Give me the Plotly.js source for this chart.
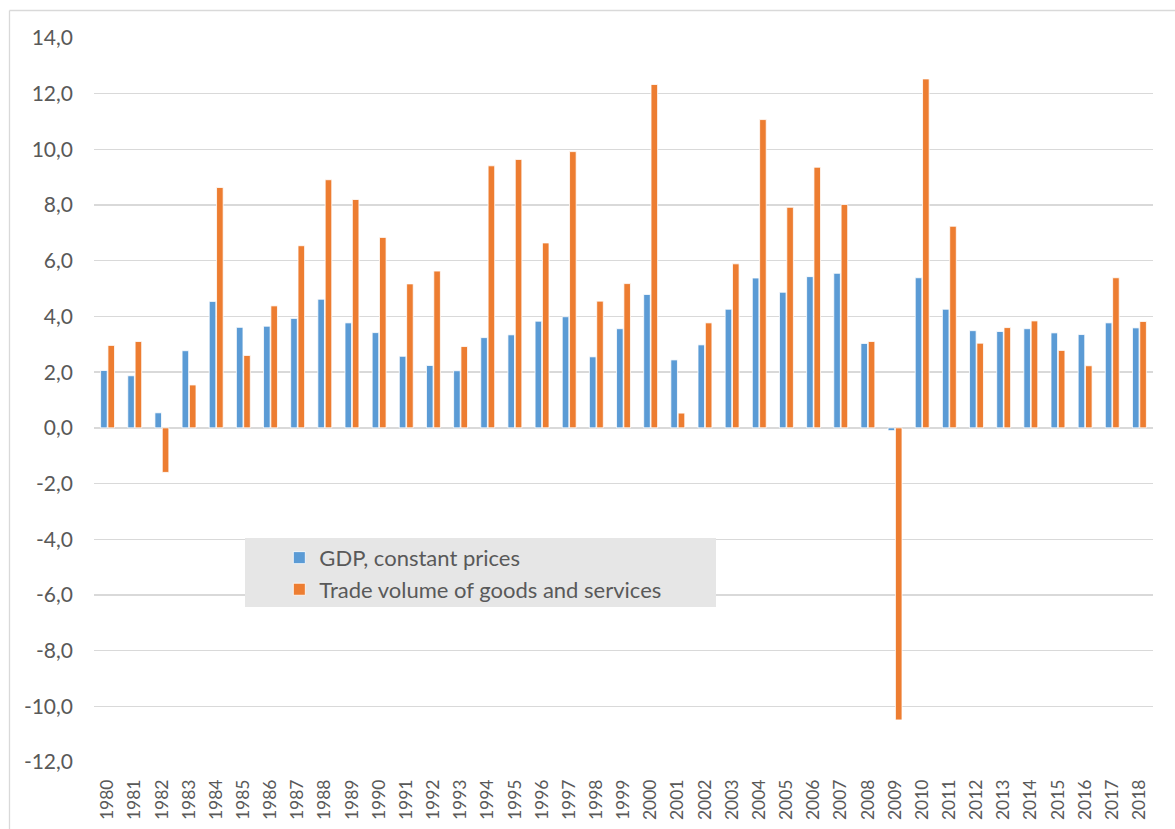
<!DOCTYPE html>
<html>
<head>
<meta charset="utf-8">
<script src="https://cdn.plot.ly/plotly-3.0.1.min.js"></script>
<style>
  html, body { margin: 0; padding: 0; background: #ffffff; }
  #chart { width: 1175px; height: 829px; }
</style>
</head>
<body>
<div id="chart"></div>
<script>
const years = ["1980","1981","1982","1983","1984","1985","1986","1987","1988","1989",
  "1990","1991","1992","1993","1994","1995","1996","1997","1998","1999",
  "2000","2001","2002","2003","2004","2005","2006","2007","2008","2009",
  "2010","2011","2012","2013","2014","2015","2016","2017","2018"];

const gdpConstantPrices = [2.06, 1.87, 0.54, 2.77, 4.54, 3.61, 3.65, 3.93, 4.62, 3.77,
  3.42, 2.57, 2.24, 2.05, 3.24, 3.34, 3.83, 3.99, 2.55, 3.56,
  4.79, 2.44, 2.98, 4.26, 5.38, 4.87, 5.43, 5.55, 3.03, -0.10,
  5.39, 4.26, 3.49, 3.46, 3.56, 3.41, 3.35, 3.77, 3.59];

const tradeVolume = [2.96, 3.10, -1.60, 1.54, 8.63, 2.60, 4.38, 6.54, 8.91, 8.20,
  6.84, 5.17, 5.63, 2.92, 9.41, 9.64, 6.64, 9.92, 4.55, 5.18,
  12.33, 0.53, 3.77, 5.89, 11.07, 7.92, 9.36, 8.02, 3.10, -10.49,
  12.53, 7.24, 3.04, 3.60, 3.84, 2.78, 2.23, 5.39, 3.82];

const seriesNames = ["GDP, constant prices", "Trade volume of goods and services"];
const yTicks = [-12, -10, -8, -6, -4, -2, 0, 2, 4, 6, 8, 10, 12, 14];
const yTickLabels = ["-12,0", "-10,0", "-8,0", "-6,0", "-4,0", "-2,0", "0,0",
  "2,0", "4,0", "6,0", "8,0", "10,0", "12,0", "14,0"];

const textColor = "#595959";
const gridColor = "#D9D9D9";
const fontFamily = "Lato, 'Open Sans', 'Liberation Sans', sans-serif";

const traces = [
  {
    type: "bar",
    name: seriesNames[0],
    x: years,
    y: gdpConstantPrices,
    marker: { color: "#5B9BD5", line: { color: "#ffffff", width: 0.8 } },
    hoverinfo: "x+y+name"
  },
  {
    type: "bar",
    name: seriesNames[1],
    x: years,
    y: tradeVolume,
    marker: { color: "#ED7D31", line: { color: "#ffffff", width: 0.8 } },
    hoverinfo: "x+y+name"
  }
];

const layout = {
  width: 1175,
  height: 829,
  margin: { l: 94, r: 22, t: 38, b: 67, pad: 0 },
  paper_bgcolor: "#ffffff",
  plot_bgcolor: "#ffffff",
  font: { family: fontFamily, color: textColor, size: 18 },
  barmode: "group",
  bargap: 0.46,
  bargroupgap: 0.1,
  showlegend: true,
  legend: {
    x: 0.175,
    y: 0.311,
    xanchor: "left",
    yanchor: "top",
    bgcolor: "rgba(0,0,0,0)",
    borderwidth: 0,
    font: { family: fontFamily, size: 22, color: textColor },
    traceorder: "normal"
  },
  xaxis: {
    type: "category",
    tickangle: -90,
    tickfont: { family: fontFamily, size: 17.5, color: textColor },
    showgrid: false,
    showline: false,
    zeroline: false,
    ticks: "",
    ticklabelstandoff: 13
  },
  yaxis: {
    range: [-12, 14],
    tickvals: yTicks,
    ticktext: yTickLabels,
    tickfont: { family: fontFamily, size: 21, color: textColor },
    showgrid: true,
    gridcolor: gridColor,
    gridwidth: 1.3,
    zeroline: true,
    zerolinecolor: gridColor,
    zerolinewidth: 1.3,
    showline: false,
    ticks: "",
    ticklabelstandoff: 20
  },
  shapes: [
    {
      type: "rect", xref: "paper", yref: "paper",
      x0: (245 - 94) / 1059, x1: (716 - 94) / 1059,
      y0: (762 - 607) / 724, y1: (762 - 538) / 724,
      fillcolor: "#E6E6E6", line: { width: 0 }, layer: "above"
    },
    {
      type: "line", xref: "paper", yref: "paper",
      x0: (9.5 - 94) / 1059, x1: (9.5 - 94) / 1059,
      y0: -0.2, y1: (762 - 10.5) / 724,
      line: { color: "#D9D9D9", width: 1.3 }
    },
    {
      type: "line", xref: "paper", yref: "paper",
      x0: (9.5 - 94) / 1059, x1: 1.05,
      y0: (762 - 10.5) / 724, y1: (762 - 10.5) / 724,
      line: { color: "#D9D9D9", width: 1.3 }
    }
  ]
};

Plotly.newPlot("chart", traces, layout, { displayModeBar: false, staticPlot: true });
</script>
</body>
</html>
